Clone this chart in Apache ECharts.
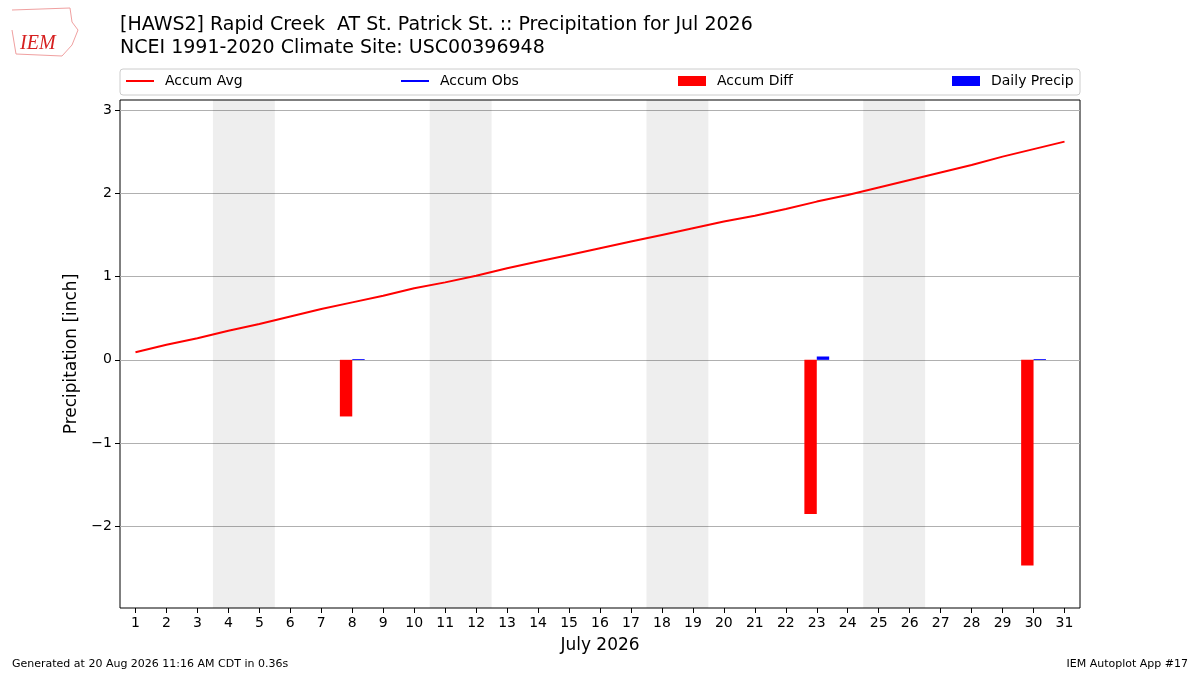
<!DOCTYPE html>
<html>
<head>
<meta charset="utf-8">
<script src="https://cdn.jsdelivr.net/npm/echarts@6.0.0/dist/echarts.min.js"></script>
<style>
  html, body { margin: 0; padding: 0; background: #fff; }
  #chart { width: 1200px; height: 675px; }
</style>
</head>
<body>
<div id="chart"></div>
<script>
// days of July 2026
var days = [];
for (var d = 1; d <= 31; d++) days.push(d);

// climatology accumulated average precip (inch)
var accumAvg = [0.09, 0.18, 0.26, 0.35, 0.43, 0.52, 0.61, 0.69, 0.77, 0.86,
                0.93, 1.01, 1.10, 1.18, 1.26, 1.34, 1.42, 1.50, 1.58, 1.66,
                1.73, 1.81, 1.90, 1.98, 2.07, 2.16, 2.25, 2.34, 2.44, 2.53, 2.62];
// observation days only
var obsDays = [8, 23, 30];
var accumDiff = [-0.68, -1.85, -2.47];
var dailyPrecip = [0.01, 0.04, 0.01];
// weekends (Sat, Sun)
var weekendStarts = [4, 11, 18, 25];
var yTicks = [-2, -1, 0, 1, 2, 3];

var chart = echarts.init(document.getElementById('chart'));
var font = 'DejaVu Sans';

var weekendAreas = weekendStarts.map(function (s) {
    return [{xAxis: s - 0.5}, {xAxis: s + 1.5}];
});

function legendItem(name, left, h) {
    return {
        left: left, top: 74,
        padding: 0,
        data: [name],
        icon: 'rect',
        itemWidth: 28, itemHeight: h,
        itemGap: 0,
        textStyle: {fontFamily: font, fontSize: 14, color: '#000', padding: [0, 0, 0, 6]},
        selectedMode: false
    };
}

var option = {
    animation: false,
    backgroundColor: '#fff',
    textStyle: {fontFamily: font},
    title: {
        text: '[HAWS2] Rapid Creek  AT St. Patrick St. :: Precipitation for Jul 2026\nNCEI 1991-2020 Climate Site: USC00396948',
        left: 115, top: 9,
        textStyle: {fontFamily: font, fontSize: 19, fontWeight: 'normal', color: '#000', lineHeight: 23}
    },
    legend: [
        legendItem('Accum Avg', 126, 2),
        legendItem('Accum Obs', 401, 2),
        legendItem('Accum Diff', 678, 10),
        legendItem('Daily Precip', 952, 10)
    ],
    graphic: [
        {type: 'rect', shape: {x: 120, y: 69, width: 960, height: 26, r: 3},
         style: {fill: 'none', stroke: '#cccccc', lineWidth: 1}, z: -1},
        {type: 'polyline', shape: {points: [[12, 10], [70, 8], [72, 22], [78, 30], [72, 45], [62, 56], [16, 54], [12, 30]]},
         style: {fill: 'none', stroke: '#f0a0a0', lineWidth: 1}},
        {type: 'text', left: 20, top: 34,
         style: {text: 'IEM', font: 'italic 20px "Liberation Serif"', fill: '#d62020'}},
        {type: 'text', left: 12, top: 659,
         style: {text: 'Generated at 20 Aug 2026 11:16 AM CDT in 0.36s', font: '11px "DejaVu Sans"', fill: '#000'}},
        {type: 'text', right: 12, top: 659,
         style: {text: 'IEM Autoplot App #17', font: '11px "DejaVu Sans"', fill: '#000'}}
    ],
    grid: {
        left: 120, right: 120, top: 100, bottom: 67,
        show: true, borderColor: '#000', borderWidth: 1, backgroundColor: 'transparent'
    },
    xAxis: {
        type: 'value',
        min: 0.5, max: 31.5,
        name: 'July 2026',
        nameLocation: 'middle',
        nameGap: 29,
        nameTextStyle: {fontFamily: font, fontSize: 17, color: '#000'},
        axisLine: {show: false, onZero: false},
        axisTick: {show: true, inside: false, length: 5, lineStyle: {color: '#000'}, customValues: days},
        axisLabel: {fontFamily: font, fontSize: 14, color: '#000', margin: 8, customValues: days},
        splitLine: {show: false}
    },
    yAxis: {
        type: 'value',
        min: -2.98, max: 3.12,
        name: 'Precipitation [inch]',
        nameLocation: 'middle',
        nameGap: 38,
        nameTextStyle: {fontFamily: font, fontSize: 17, color: '#000'},
        axisLine: {show: false, onZero: false},
        axisTick: {show: true, length: 5, lineStyle: {color: '#000'}, customValues: yTicks},
        axisLabel: {
            fontFamily: font, fontSize: 14, color: '#000', margin: 8, customValues: yTicks,
            formatter: function (v) { return v < 0 ? '\u2212' + Math.abs(v) : String(v); }
        },
        splitLine: {show: true, lineStyle: {color: '#b0b0b0', width: 1}}
    },
    series: [
        {
            name: 'Accum Avg',
            type: 'line',
            data: days.map(function (d, i) { return [d, accumAvg[i]]; }),
            showSymbol: false,
            lineStyle: {color: '#ff0000', width: 2},
            itemStyle: {color: '#ff0000'},
            z: 5,
            markArea: {
                silent: true,
                itemStyle: {color: 'rgba(0,0,0,0.067)'},
                data: weekendAreas
            }
        },
        {
            name: 'Accum Obs',
            type: 'line',
            data: [],
            showSymbol: false,
            lineStyle: {color: '#0000ff', width: 2},
            itemStyle: {color: '#0000ff'}
        },
        {
            name: 'Accum Diff',
            type: 'bar',
            data: obsDays.map(function (d, i) { return [d, accumDiff[i]]; }),
            barWidth: 12.4,
            barGap: '0%',
            itemStyle: {color: '#ff0000'},
            z: 4
        },
        {
            name: 'Daily Precip',
            type: 'bar',
            data: obsDays.map(function (d, i) { return [d, dailyPrecip[i]]; }),
            barWidth: 12.4,
            barGap: '0%',
            itemStyle: {color: '#0000ff'},
            z: 4
        }
    ]
};

chart.setOption(option);
</script>
</body>
</html>
